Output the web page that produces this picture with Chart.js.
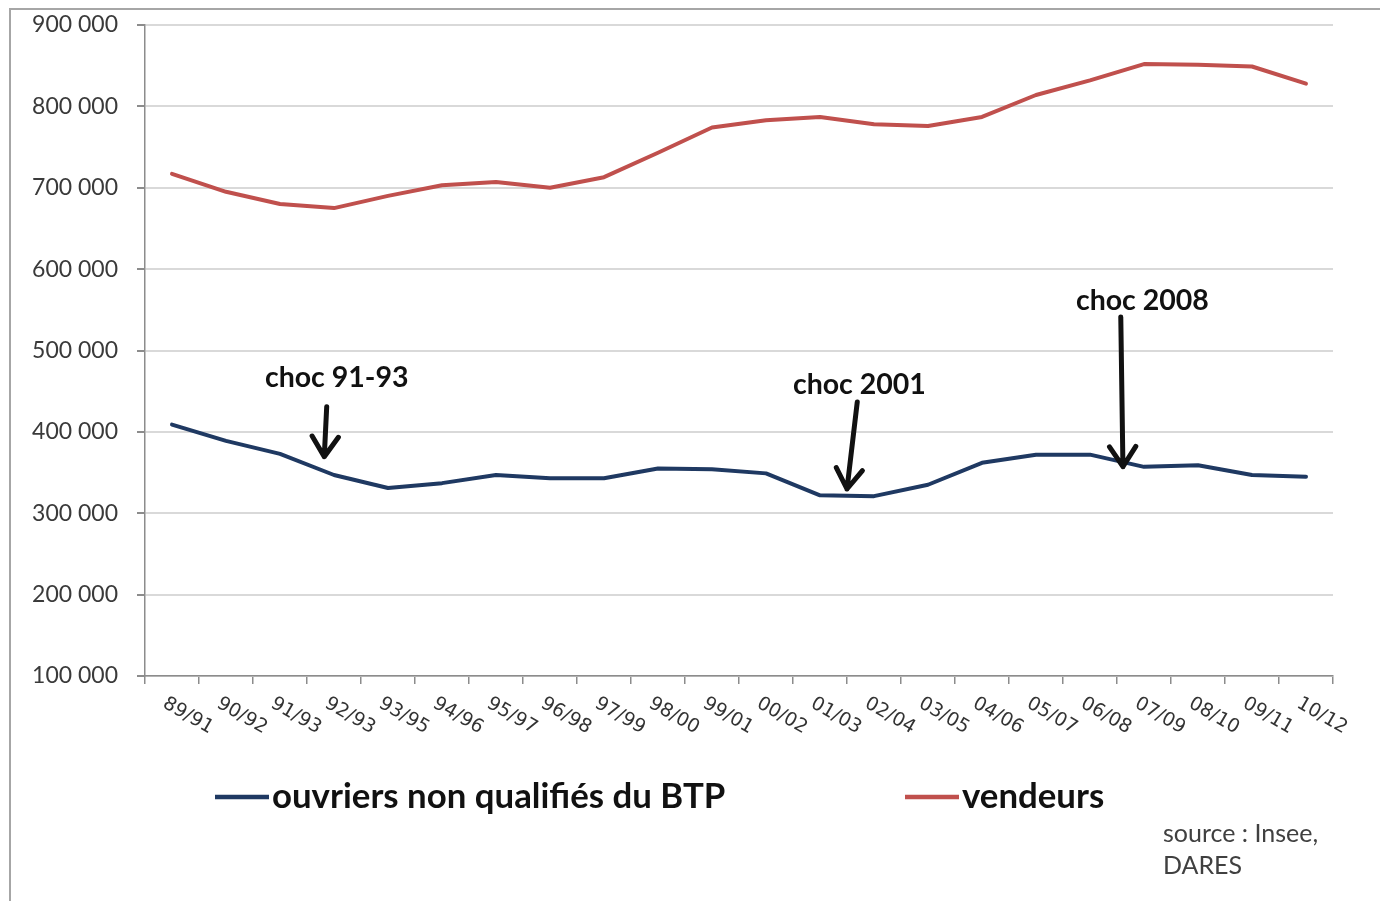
<!DOCTYPE html>
<html>
<head>
<meta charset="utf-8">
<script src="https://cdn.jsdelivr.net/npm/chart.js@4/dist/chart.umd.min.js"></script>
<style>
  html, body { margin: 0; padding: 0; background: #fff; }
  #wrap { position: relative; width: 1380px; height: 901px; }
</style>
</head>
<body>
<div id="wrap"><canvas id="chart" width="1380" height="901"></canvas></div>
<script>
const periods = ['89/91', '90/92', '91/93', '92/93', '93/95', '94/96', '95/97', '96/98', '97/99', '98/00', '99/01',
  '00/02', '01/03', '02/04', '03/05', '04/06', '05/07', '06/08', '07/09', '08/10', '09/11', '10/12'];
const ouvriers = [409000, 389000, 373000, 347000, 331000, 337000, 347000, 343000, 343000, 355000, 354000,
  349000, 322000, 321000, 335000, 362000, 372000, 372000, 357000, 359000, 347000, 345000];
const vendeurs = [717000, 695000, 680000, 675000, 690000, 703000, 707000, 700000, 713000, 743000, 774000,
  783000, 787000, 778000, 776000, 787000, 814000, 832000, 852000, 851000, 849000, 828000];
const seriesNames = ['ouvriers non qualifiés du BTP', 'vendeurs'];
const yTicks = [100000, 200000, 300000, 400000, 500000, 600000, 700000, 800000, 900000];
const shockLabels = ['choc 91-93', 'choc 2001', 'choc 2008'];
const sourceLines = ['source : Insee,', 'DARES'];

// where each "choc" note sits, in axis units: [category index, value]
const shockPlacement = [
  { text: [3.05, 467000], from: [2.865, 431000], to: [2.82, 369500] },
  { text: [12.73, 458000], from: [12.69, 436700], to: [12.5, 329800] },
  { text: [17.97, 561000], from: [17.57, 541200], to: [17.61, 357200] }
];

const blue = '#1f3962';
const red = '#c0504d';

function fmt(v) {
  return String(v).replace(/\B(?=(\d{3})+(?!\d))/g, ' ');
}

function arrow(ctx, x1, y1, x2, y2) {
  const a = Math.atan2(y2 - y1, x2 - x1);
  const head = 24, spread = 0.58;
  ctx.lineWidth = 5;
  ctx.lineCap = 'round';
  ctx.lineJoin = 'round';
  ctx.beginPath();
  ctx.moveTo(x1, y1);
  ctx.lineTo(x2, y2);
  ctx.moveTo(x2 - head * Math.cos(a - spread), y2 - head * Math.sin(a - spread));
  ctx.lineTo(x2, y2);
  ctx.lineTo(x2 - head * Math.cos(a + spread), y2 - head * Math.sin(a + spread));
  ctx.stroke();
}

const decor = {
  id: 'decor',
  beforeDraw(chart) {
    const ctx = chart.ctx;
    ctx.save();
    ctx.strokeStyle = '#a6a6a6';
    ctx.lineWidth = 2;
    ctx.beginPath();
    ctx.moveTo(10, 901);
    ctx.lineTo(10, 9);
    ctx.lineTo(1380, 9);
    ctx.stroke();
    ctx.restore();
  },
  afterDraw(chart) {
    const ctx = chart.ctx;
    const xs = chart.scales.x, ys = chart.scales.y;
    ctx.save();

    // rotated category labels
    ctx.font = '19px "DejaVu Sans"';
    ctx.fillStyle = '#333';
    ctx.textAlign = 'left';
    ctx.textBaseline = 'top';
    periods.forEach((p, i) => {
      ctx.save();
      ctx.translate(xs.getPixelForValue(i) - 3, ys.bottom + 18);
      ctx.rotate(Math.PI / 6);
      ctx.fillText(p, 0, 0);
      ctx.restore();
    });

    // shocks
    ctx.fillStyle = '#111';
    ctx.strokeStyle = '#111';
    ctx.font = 'bold 28.5px Lato';
    ctx.textAlign = 'center';
    ctx.textBaseline = 'middle';
    shockLabels.forEach((t, k) => {
      const s = shockPlacement[k];
      ctx.fillText(t, xs.getPixelForValue(s.text[0]), ys.getPixelForValue(s.text[1]));
      arrow(ctx, xs.getPixelForValue(s.from[0]), ys.getPixelForValue(s.from[1]),
        xs.getPixelForValue(s.to[0]), ys.getPixelForValue(s.to[1]));
    });

    // legend
    const legendX = [215, 905];
    chart.data.datasets.forEach((ds, k) => {
      ctx.strokeStyle = ds.borderColor;
      ctx.lineWidth = 4.5;
      ctx.lineCap = 'butt';
      ctx.beginPath();
      ctx.moveTo(legendX[k], 797);
      ctx.lineTo(legendX[k] + 54, 797);
      ctx.stroke();
      ctx.fillStyle = '#111';
      ctx.font = 'bold 34.8px Lato';
      ctx.textAlign = 'left';
      ctx.fillText(ds.label, legendX[k] + 57, 797);
    });

    // source
    ctx.font = '25px Lato';
    ctx.fillStyle = '#404040';
    sourceLines.forEach((l, k) => ctx.fillText(l, 1163, 834 + k * 32));

    ctx.restore();
  }
};

new Chart(document.getElementById('chart'), {
  type: 'line',
  data: {
    labels: periods,
    datasets: [
      { label: seriesNames[0], data: ouvriers, borderColor: blue, backgroundColor: blue },
      { label: seriesNames[1], data: vendeurs, borderColor: red, backgroundColor: red }
    ]
  },
  options: {
    responsive: false,
    animation: false,
    layout: { padding: { left: 0, top: 25, right: 47, bottom: 0 } },
    elements: {
      line: { borderWidth: 4, tension: 0, borderJoinStyle: 'round', borderCapStyle: 'round' },
      point: { radius: 0 }
    },
    plugins: { legend: { display: false }, tooltip: { enabled: false } },
    scales: {
      x: {
        type: 'category',
        offset: true,
        grid: { offset: true, drawOnChartArea: false, tickLength: 8, tickColor: '#8c8c8c', lineWidth: 1.5 },
        border: { color: '#8c8c8c', width: 1.5 },
        ticks: { display: false },
        afterFit(scale) { scale.height = 225; scale.paddingLeft = 0; scale.paddingRight = 0; }
      },
      y: {
        min: yTicks[0],
        max: yTicks[yTicks.length - 1],
        afterBuildTicks(scale) { scale.ticks = yTicks.map(v => ({ value: v })); },
        grid: { color: '#d9d9d9', lineWidth: 2, tickLength: 8, tickColor: '#8c8c8c' },
        border: { color: '#8c8c8c', width: 1.5 },
        ticks: {
          padding: 19,
          color: '#3a3a3a',
          font: { family: 'Lato', size: 23 },
          callback: v => fmt(v)
        },
        afterFit(scale) { scale.width = 145; scale.paddingTop = 0; scale.paddingBottom = 0; }
      }
    }
  },
  plugins: [decor]
});
</script>
</body>
</html>
